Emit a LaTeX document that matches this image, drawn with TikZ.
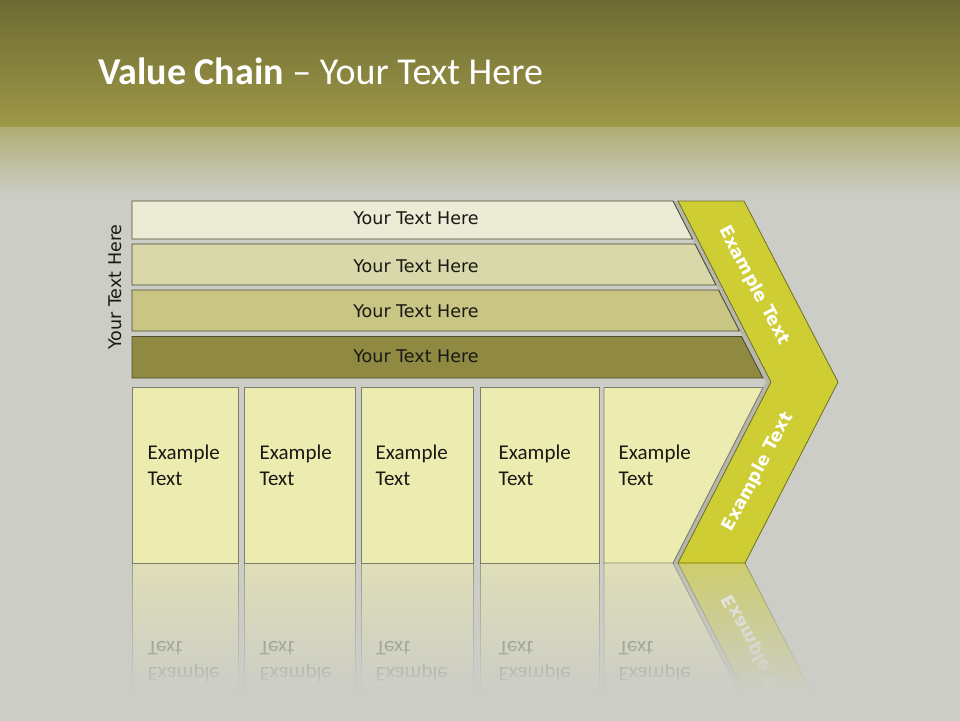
\documentclass[tikz,border=0pt]{standalone}
\usepackage{fontspec}
\setmainfont{Carlito}
\newfontfamily\dv{DejaVu Sans}
\usetikzlibrary{fadings}
\definecolor{bg}{RGB}{204,205,198}
\definecolor{olivetop}{RGB}{108,106,50}
\definecolor{olivebot}{RGB}{158,152,72}
\definecolor{bandtop}{RGB}{176,174,115}
\definecolor{barA}{RGB}{236,235,214}
\definecolor{barB}{RGB}{217,216,170}
\definecolor{barC}{RGB}{201,197,132}
\definecolor{barD}{RGB}{143,137,66}
\definecolor{bardraw}{RGB}{75,75,45}
\definecolor{boxfill}{RGB}{236,235,176}
\definecolor{boxdraw}{RGB}{125,125,110}
\definecolor{chev}{RGB}{206,206,52}
\definecolor{chevdraw}{RGB}{110,110,35}
\definecolor{chevshadow}{RGB}{182,183,172}
\definecolor{txt}{RGB}{25,25,20}
\tikzfading[name=reflfade, top color=transparent!60, bottom color=transparent!0]
\begin{document}
\begin{tikzpicture}[x=1pt,y=-1pt,
  bar/.style={draw=bardraw, line width=0.9pt},
  box/.style={draw=boxdraw, fill=boxfill, line width=0.9pt},
  chevshape/.style={fill=chev, draw=chevdraw, line width=0.8pt},
  bartext/.style={font=\dv\fontsize{17.5}{20}\selectfont, text=txt, inner sep=0pt},
  boxtext/.style={font=\fontsize{21}{25}\selectfont, text=txt, anchor=base west, inner sep=0pt},
  chevtext/.style={font=\dv\bfseries\fontsize{17.5}{20}\selectfont, text=white, inner sep=0pt},
  mirror/.style={shift={(0,563)}, yscale=-1, shift={(0,-563)}, transform shape}
]
\useasboundingbox (0,0) rectangle (960,720);
% background
\fill[bg] (-2,-2) rectangle (962,722);
\shade[top color=olivetop, bottom color=olivebot] (-2,-2) rectangle (962,127);
\shade[top color=bandtop, bottom color=bg] (-2,127) rectangle (962,195);
% title
\node[anchor=base west, inner sep=0pt, text=white, font=\fontsize{38}{40}\selectfont] (title) at (98,84) {\textbf{Value Chain} – Your Text Here};
% chevron with shadow
\fill[chevshadow] (673,201) -- (739,201) -- (833,382) -- (740,563) -- (673,563) -- (766,382) -- cycle;
\draw[chevshape] (678,201) -- (744,201) -- (838,382) -- (745,563) -- (678,563) -- (771,382) -- cycle;
% bars
\draw[bar, fill=barA] (132,201) -- (673,201) -- (692.5,239) -- (132,239) -- cycle;
\draw[bar, fill=barB] (132,244) -- (695,244) -- (716,285) -- (132,285) -- cycle;
\draw[bar, fill=barC] (132,290) -- (718.5,290) -- (739.5,331) -- (132,331) -- cycle;
\draw[bar, fill=barD] (132,336.5) -- (741.5,336.5) -- (763,378) -- (132,378) -- cycle;
\node[bartext] (bt1) at (416,218.5) {Your Text Here};
\node[bartext] (bt2) at (416,266) {Your Text Here};
\node[bartext] (bt3) at (416,311) {Your Text Here};
\node[bartext] (bt4) at (416,356) {Your Text Here};
\node[bartext, rotate=90] (side) at (115,287) {Your Text Here};
% boxes
\draw[box] (132,387.5) rectangle (238,563);
\draw[box] (244,387.5) rectangle (355,563);
\draw[box] (361,387.5) rectangle (473,563);
\draw[box] (480,387.5) rectangle (599,563);
\draw[box] (604,387.5) -- (763,387.5) -- (673,563) -- (604,563) -- cycle;
\node[boxtext] (e1) at (147.5,459) {Example};
\node[boxtext] (t1) at (147.5,485) {Text};
\node[boxtext] (e2) at (259.5,459) {Example};
\node[boxtext] (t2) at (259.5,485) {Text};
\node[boxtext] (e3) at (375.5,459) {Example};
\node[boxtext] (t3) at (375.5,485) {Text};
\node[boxtext] (e4) at (498.5,459) {Example};
\node[boxtext] (t4) at (498.5,485) {Text};
\node[boxtext] (e5) at (618.5,459) {Example};
\node[boxtext] (t5) at (618.5,485) {Text};
% chevron texts
\node[chevtext, rotate=-62] (ct1) at (754,285.5) {Example Text};
\node[chevtext, rotate=62] (ct2) at (758,472) {Example Text};
% reflection
\begin{scope}
\clip (0,563.6) rectangle (960,700);
\begin{scope}[mirror]
\fill[chevshadow] (673,563) -- (740,563) -- (833,382) -- (766,382) -- cycle;
\draw[chevshape] (678,563) -- (745,563) -- (838,382) -- (771,382) -- cycle;
\node[chevtext, rotate=62] (rct2) at (758,472) {Example Text};
\draw[box] (132,387.5) rectangle (238,563);
\draw[box] (244,387.5) rectangle (355,563);
\draw[box] (361,387.5) rectangle (473,563);
\draw[box] (480,387.5) rectangle (599,563);
\draw[box] (604,387.5) -- (763,387.5) -- (673,563) -- (604,563) -- cycle;
\node[boxtext] (re1) at (147.5,459) {Example};
\node[boxtext] (rt1) at (147.5,485) {Text};
\node[boxtext] (re2) at (259.5,459) {Example};
\node[boxtext] (rt2) at (259.5,485) {Text};
\node[boxtext] (re3) at (375.5,459) {Example};
\node[boxtext] (rt3) at (375.5,485) {Text};
\node[boxtext] (re4) at (498.5,459) {Example};
\node[boxtext] (rt4) at (498.5,485) {Text};
\node[boxtext] (re5) at (618.5,459) {Example};
\node[boxtext] (rt5) at (618.5,485) {Text};
\end{scope}
\fill[bg, path fading=reflfade] (-2,563.6) rectangle (962,692);
\fill[bg] (-2,690) rectangle (962,702);
\end{scope}
\end{tikzpicture}
\end{document}
